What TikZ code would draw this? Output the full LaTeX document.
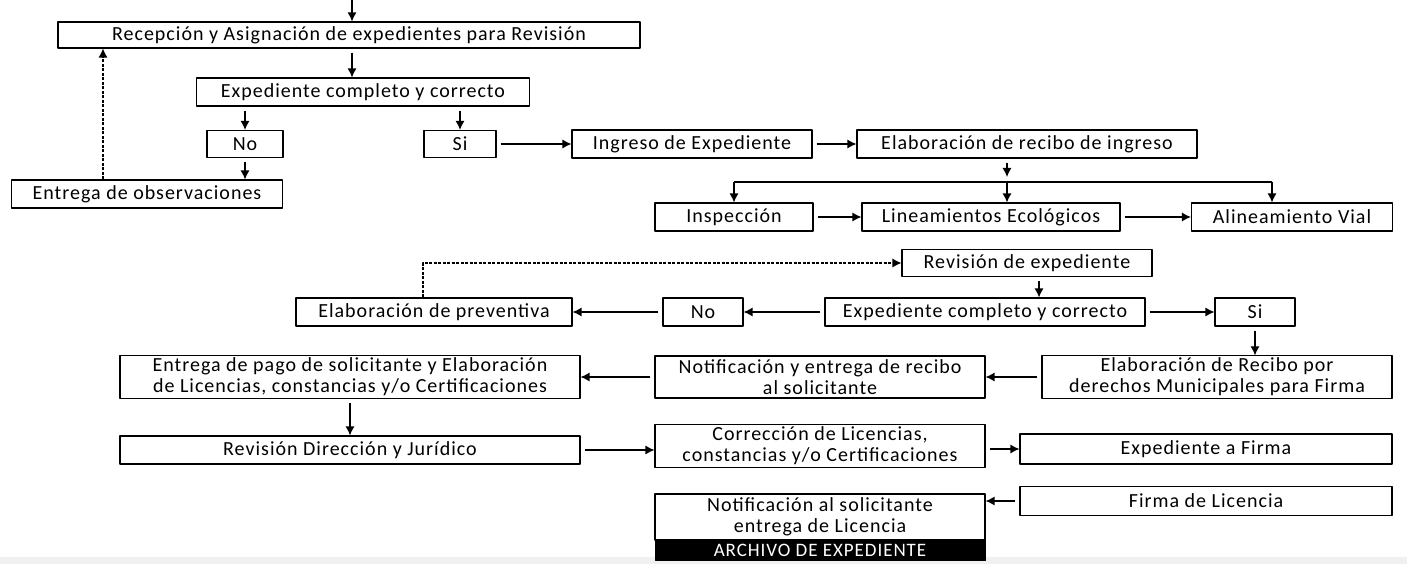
\documentclass[tikz,border=0pt]{standalone}
\usepackage{fontspec}
\setmainfont{Carlito}[LetterSpace=5]
\usetikzlibrary{arrows.meta}
\begin{document}
\begin{tikzpicture}[x=1pt,y=-1pt,line join=round,font=\fontsize{20}{21}\selectfont,>={Latex[length=9pt,width=9pt]},
  caja/.style={draw,line width=1.1pt,inner sep=2pt,align=center},
  flecha/.style={->,line width=1.2pt,shorten <=4pt},
  punteada/.style={->,line width=1.1pt,dash pattern=on 3pt off 1.5pt}]
\useasboundingbox (0,0) rectangle (1407,564);
\fill[gray!12] (0,557) rectangle (1407,564);
% recepcion y primera revision
\node[caja,minimum width=582,minimum height=26] (recep) at (349,35) {Recepción y Asignación de expedientes para Revisión};
\node[caja,minimum width=333,minimum height=28] (exp1) at (363,92) {Expediente completo y correcto};
\node[caja,minimum width=76,minimum height=27] (no1) at (245,144) {No};
\node[caja,minimum width=72,minimum height=27] (si1) at (460,144) {Si};
\node[caja,minimum width=271,minimum height=28] (entrega) at (147,194) {Entrega de observaciones};
\node[caja,minimum width=240,minimum height=28] (ingreso) at (692,144) {Ingreso de Expediente};
\node[caja,minimum width=340,minimum height=28] (elabrec) at (1027,144) {Elaboración de recibo de ingreso};
\node[caja,minimum width=158,minimum height=28] (insp) at (734,217) {Inspección};
\node[caja,minimum width=258,minimum height=28] (lin) at (991,217) {Lineamientos Ecológicos};
\node[caja,minimum width=201,minimum height=28] (alin) at (1292,217) {Alineamiento Vial};
% segunda revision
\node[caja,minimum width=250,minimum height=27] (rev) at (1027,263) {Revisión de expediente};
\node[caja,minimum width=320,minimum height=28] (exp2) at (985,312) {Expediente completo y correcto};
\node[caja,minimum width=80,minimum height=28] (si2) at (1255,312) {Si};
\node[caja,minimum width=80,minimum height=28] (no2) at (703,312) {No};
\node[caja,minimum width=276,minimum height=28] (prev) at (434,312) {Elaboración de preventiva};
% licencias
\node[caja,minimum width=350,minimum height=42] (elabder) at (1217,377) {Elaboración de Recibo por\\derechos Municipales para Firma};
\node[caja,minimum width=330,minimum height=42] (notif) at (820,377) {Notificación y entrega de recibo\\al solicitante};
\node[caja,minimum width=460,minimum height=42] (pago) at (350,377) {Entrega de pago de solicitante y  Elaboración\\de Licencias, constancias y/o Certificaciones};
\node[caja,minimum width=460,minimum height=28] (revdir) at (350,450) {Revisión Dirección y Jurídico};
\node[caja,minimum width=330,minimum height=43] (corr) at (820,446) {Corrección de Licencias,\\constancias y/o Certificaciones};
\node[caja,minimum width=372,minimum height=30] (expfirma) at (1206,449) {Expediente a Firma};
\node[caja,minimum width=330,minimum height=46] (notifsol) at (820,517) {Notificación al solicitante\\entrega de Licencia};
\node[draw,fill=black,text=white,minimum width=330,minimum height=20,inner sep=0pt,font=\fontsize{19}{20}\selectfont] (archivo) at (820,550) {ARCHIVO DE EXPEDIENTE};
\node[caja,minimum width=372,minimum height=29] (firma) at (1206,501) {Firma de Licencia};
% conectores
\coordinate (inicio) at (352,0);
\coordinate (busL) at (734,182);
\coordinate (busM) at (1007,182);
\coordinate (busR) at (1272,182);
\draw[flecha,shorten <=0pt] (inicio) -- (recep.north -| inicio);
\draw[flecha] (recep.south -| inicio) -- (exp1.north -| inicio);
\draw[flecha] (exp1.south -| no1) -- (no1);
\draw[flecha] (exp1.south -| si1) -- (si1);
\draw[flecha] (no1) -- (entrega.north -| no1);
\draw[punteada] ([xshift=-44pt]entrega.north) -- ([xshift=-44pt]entrega.north |- recep.south);
\draw[flecha] (si1) -- (ingreso);
\draw[flecha] (ingreso) -- (elabrec);
\draw[flecha,shorten >=5pt] (elabrec.south -| busM) -- (busM);
\draw[line width=1.2pt] (busL) -- (busR);
\draw[->,line width=1.2pt] (busL) -- (insp.north -| busL);
\draw[->,line width=1.2pt] (busM) -- (lin.north -| busM);
\draw[->,line width=1.2pt] (busR) -- (alin.north -| busR);
\draw[flecha] (insp) -- (lin);
\draw[flecha] (lin) -- (alin);
\draw[punteada] ([xshift=-11pt]prev.north) |- (rev);
\draw[flecha] ([xshift=12pt]rev.south) -- ([xshift=12pt]rev.south |- exp2.north);
\draw[flecha] (exp2) -- (si2);
\draw[flecha] (exp2) -- (no2);
\draw[flecha] (no2) -- (prev);
\draw[flecha] (si2) -- (si2 |- elabder.north);
\draw[flecha] (elabder) -- (notif);
\draw[flecha] (notif) -- (pago);
\draw[flecha] (pago) -- (revdir);
\draw[flecha] (revdir) -- (corr.west |- revdir);
\draw[flecha] (corr.east |- expfirma) -- (expfirma);
\draw[flecha] (firma) -- (notifsol.east |- firma);
\end{tikzpicture}
\end{document}
